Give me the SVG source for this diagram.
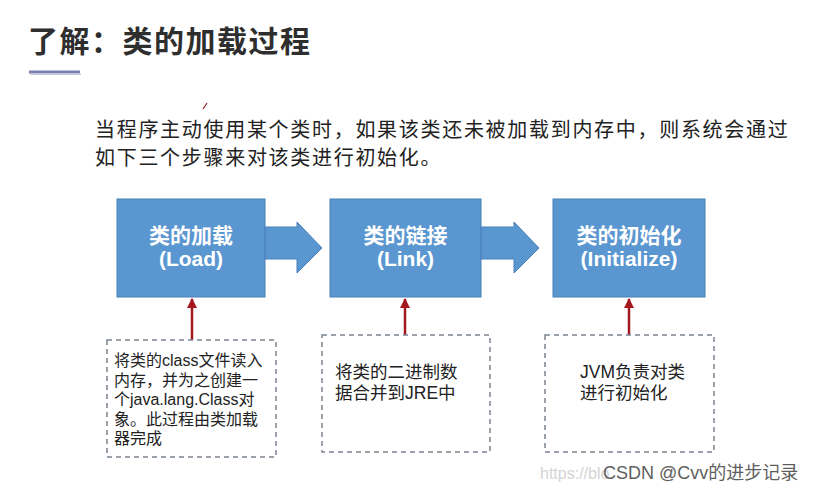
<svg xmlns="http://www.w3.org/2000/svg" width="819" height="493" viewBox="0 0 819 493">
<defs>
<style>
.cjk{font-family:"Noto Sans CJK SC","Liberation Sans",sans-serif;}
.para{font-family:"Noto Sans CJK SC","Liberation Sans",sans-serif;font-size:20px;letter-spacing:1.7px;fill:#222222;}
.step{fill:#5a96cf;stroke:#4a80b8;stroke-width:1;}
.stepT{font-family:"Liberation Sans","Noto Sans CJK SC",sans-serif;font-weight:bold;font-size:21px;fill:#ffffff;text-anchor:middle;}
.note{fill:#ffffff;stroke:#7a8591;stroke-width:1.5;stroke-dasharray:5 4;}
.noteT{font-family:"Liberation Sans","Noto Sans CJK SC",sans-serif;fill:#222222;}
.red{stroke:#a3171f;stroke-width:2.5;fill:none;}
</style>
<marker id="ah" viewBox="0 0 10 10" refX="9" refY="5" markerWidth="4" markerHeight="4" orient="auto" markerUnits="strokeWidth">
<path d="M0,0 L10,5 L0,10 z" fill="#a3171f"/>
</marker>
</defs>
<rect width="819" height="493" fill="#ffffff"/>

<g id="title">
<text x="28" y="52" class="cjk" font-size="30" font-weight="bold" fill="#2e2e2e" letter-spacing="1.5">了解：类的加载过程</text>
<rect x="29" y="70.5" width="51" height="3" fill="#7b80b0"/>
<rect x="30" y="73.5" width="51" height="1.5" fill="#c8cade"/>
</g>

<line x1="207" y1="103" x2="203" y2="109" stroke="#8a2020" stroke-width="1.2"/>

<g id="intro">
<text x="95" y="137" class="para">当程序主动使用某个类时，如果该类还未被加载到内存中，则系统会通过</text>
<text x="95" y="165" class="para">如下三个步骤来对该类进行初始化。</text>
</g>

<g id="connectors">
<path d="M265,227 L297,227 L297,222 L322,248 L297,273 L297,259 L265,259 Z" class="step"/>
<path d="M481,227 L514,227 L514,222 L539,248 L514,273 L514,259 L481,259 Z" class="step"/>
<line x1="192" y1="340" x2="192" y2="299" class="red" marker-end="url(#ah)"/>
<line x1="405" y1="335" x2="405" y2="299" class="red" marker-end="url(#ah)"/>
<line x1="629" y1="335" x2="629" y2="299" class="red" marker-end="url(#ah)"/>
</g>

<g id="load">
<rect x="117" y="199" width="148" height="98" class="step"/>
<text x="191" y="243" class="stepT">类的加载</text>
<text x="191" y="266" class="stepT">(Load)</text>
</g>
<g id="link">
<rect x="330" y="199" width="151" height="98" class="step"/>
<text x="405.5" y="243" class="stepT">类的链接</text>
<text x="405.5" y="266" class="stepT">(Link)</text>
</g>
<g id="init">
<rect x="553" y="199" width="152" height="98" class="step"/>
<text x="629" y="243" class="stepT">类的初始化</text>
<text x="629" y="266" class="stepT">(Initialize)</text>
</g>

<g id="note-load">
<rect x="107" y="340" width="169" height="117" class="note"/>
<text class="noteT" font-size="16">
<tspan x="114" y="366">将类的class文件读入</tspan>
<tspan x="114" y="385.5">内存，并为之创建一</tspan>
<tspan x="114" y="405">个java.lang.Class对</tspan>
<tspan x="114" y="424.5">象。此过程由类加载</tspan>
<tspan x="114" y="444">器完成</tspan>
</text>
</g>
<g id="note-link">
<rect x="322" y="335" width="168" height="117" class="note"/>
<text class="noteT" font-size="17.5">
<tspan x="335" y="378">将类的二进制数</tspan>
<tspan x="335" y="399">据合并到JRE中</tspan>
</text>
</g>
<g id="note-init">
<rect x="545" y="335" width="169" height="117" class="note"/>
<text class="noteT" font-size="17.5">
<tspan x="580" y="378">JVM负责对类</tspan>
<tspan x="580" y="399">进行初始化</tspan>
</text>
</g>

<g id="watermark">
<text x="540" y="479" font-family="Liberation Sans,sans-serif" font-size="16" fill="#d4d4d4">https://blo</text>
<text x="603" y="479" font-family="Liberation Sans,'Noto Sans CJK SC',sans-serif" font-size="18" fill="#5e5e5e">CSDN @Cvv的进步记录</text>
</g>
</svg>
